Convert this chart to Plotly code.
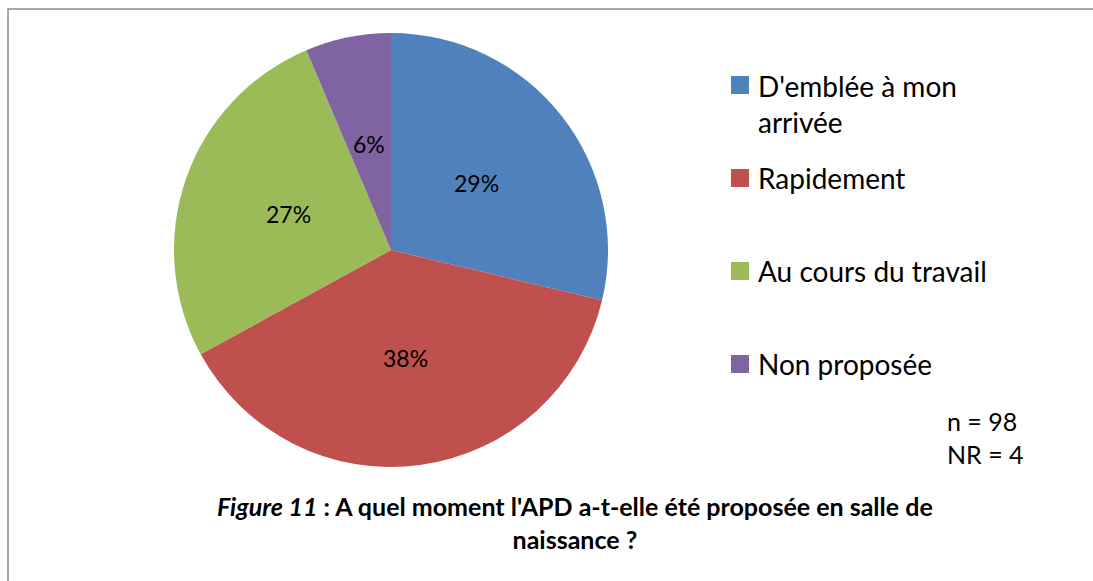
import numpy as np
import plotly.graph_objects as go

categories = ["D'emblée à mon arrivée", "Rapidement", "Au cours du travail", "Non proposée"]
legend_labels = ["D'emblée à mon<br>arrivée", "Rapidement", "Au cours du travail", "Non proposée"]
counts = [27, 36, 25, 6]
colors = ["#4F81BD", "#C0504D", "#9BBB59", "#8064A2"]
notes = ["n = 98", "NR = 4"]
caption = "<i>Figure 11</i> : A quel moment l'APD a-t-elle été proposée en salle de<br>naissance ?"

W, H = 1093, 581
FONT = "Lato"

def px(x):
    return x / W

def py(y):
    return 1 - y / H

# pie geometry (pixels)
CX, CY, R = 391, 250, 217

fig = go.Figure()
fig.add_trace(go.Pie(
    labels=categories,
    values=counts,
    sort=False,
    direction="clockwise",
    rotation=0,
    marker=dict(colors=colors, line=dict(width=0)),
    textinfo="none",
    domain=dict(x=[px(CX - R), px(CX + R)], y=[py(CY + R), py(CY - R)]),
    showlegend=False,
    hoverinfo="label+percent",
))

shapes = []
annotations = []

# percentage labels placed at mid-angle of each slice, half radius
vals = np.array(counts, dtype=float)
frac = vals / vals.sum()
mid = np.cumsum(frac) - frac / 2
theta = 2 * np.pi * mid
rl = 0.5 * R
for f, t in zip(frac, theta):
    x = CX + rl * np.sin(t)
    y = CY - rl * np.cos(t)
    annotations.append(dict(xref="paper", yref="paper", x=px(x), y=py(y),
                            xanchor="center", yanchor="middle",
                            text=f"{round(f * 100):.0f}%", showarrow=False,
                            font=dict(family=FONT, size=23, color="black")))

# Chart border (top and left visible)
shapes.append(dict(type="rect", xref="paper", yref="paper",
                   x0=px(8), x1=1.05, y0=-0.05, y1=py(9),
                   line=dict(color="#8c8c8c", width=1.5), fillcolor="rgba(0,0,0,0)"))

# Manual legend built from categories/colors
legend_y = [85, 178, 271, 364]
line_h = 37
for lab, col, yc in zip(legend_labels, colors, legend_y):
    nlines = lab.count("<br>") + 1
    shapes.append(dict(type="rect", xref="paper", yref="paper",
                       x0=px(731), x1=px(749), y0=py(yc + 9), y1=py(yc - 9),
                       line=dict(width=0), fillcolor=col))
    annotations.append(dict(xref="paper", yref="paper", x=px(756),
                            y=py(yc + (nlines - 1) * line_h / 2),
                            xanchor="left", yanchor="middle", align="left",
                            text=lab, showarrow=False,
                            font=dict(family=FONT, size=28, color="black")))

# Notes
annotations.append(dict(xref="paper", yref="paper", x=px(945), y=py(437.5),
                        xanchor="left", yanchor="middle", align="left",
                        text="<br>".join(notes), showarrow=False,
                        font=dict(family=FONT, size=25, color="black")))

# Caption
annotations.append(dict(xref="paper", yref="paper", x=px(575), y=py(522.5),
                        xanchor="center", yanchor="middle", align="center",
                        text="<b>" + caption + "</b>", showarrow=False,
                        font=dict(family=FONT, size=25, color="black")))

fig.update_layout(
    width=W, height=H,
    margin=dict(l=0, r=0, t=0, b=0),
    paper_bgcolor="white",
    plot_bgcolor="white",
    shapes=shapes,
    annotations=annotations,
    showlegend=False,
)

fig.write_html("out.html",
               config={"displayModeBar": False},
               post_script="document.body.style.margin='0';document.body.style.overflow='hidden';")
